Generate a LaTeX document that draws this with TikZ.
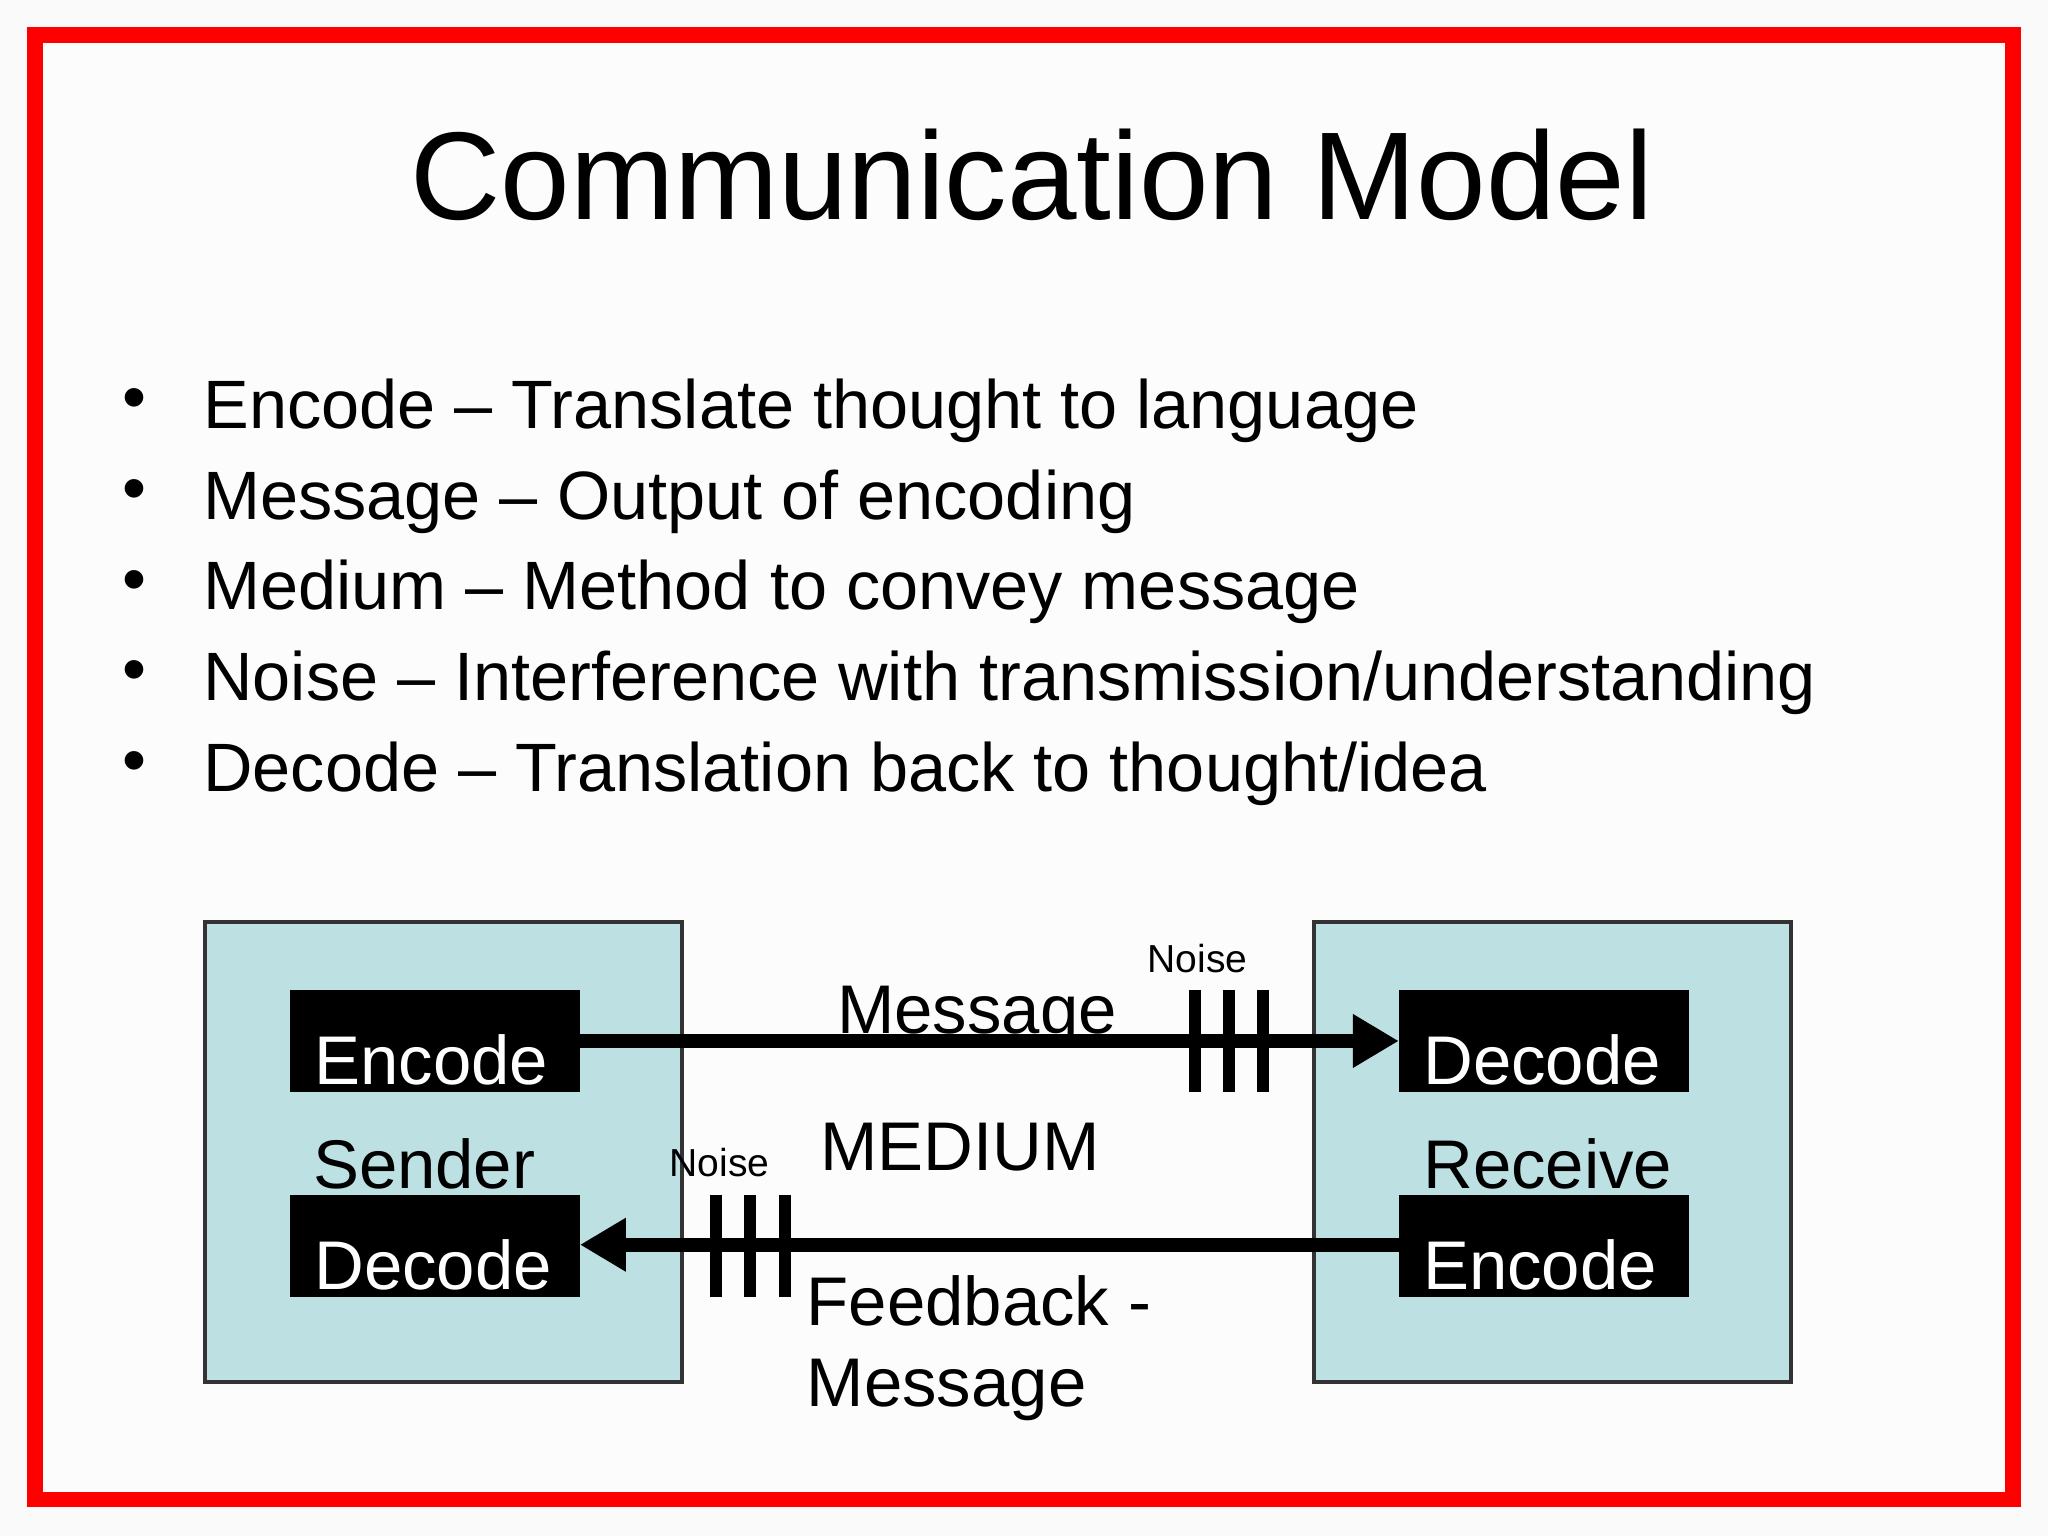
\documentclass[tikz,border=0pt]{standalone}
\usepackage{fontspec}
\setmainfont{Liberation Sans}
\usetikzlibrary{arrows.meta}
\begin{document}
\begin{tikzpicture}[x=0.01cm,y=-0.01cm,
  outer/.style={draw=black!80,fill={rgb,255:red,189;green,224;blue,227},line width=0.8pt},
  blk/.style={fill=black},
  wt/.style={text=white,font=\fontsize{15}{18}\selectfont,anchor=base west,inner sep=0},
  lbl/.style={font=\fontsize{15}{18}\selectfont,anchor=base west,inner sep=0},
  small/.style={font=\fontsize{8.5}{10}\selectfont,inner sep=0},
  bar/.style={line width=2.6pt},
  arr/.style={line width=3pt,-{Triangle[length=10pt,width=11pt]}},
  bul/.style={font=\fontsize{14.9}{18}\selectfont,anchor=base west,inner sep=0}]
\useasboundingbox (0,0) rectangle (1568,1176);
\fill[white!98!black] (0,0) rectangle (1568,1176);
\draw[red,line width=3.4pt,fill=white!99!black] (27,27) rectangle (1541,1148);
\node[font=\fontsize{27.2}{32}\selectfont,anchor=base] (title) at (790,168) {Communication Model};
\foreach \t [count=\i] in {Encode – Translate thought to language,Message – Output of encoding,Medium – Method to convey message,Noise – Interference with transmission/understanding,Decode – Translation back to thought/idea}{
  \node[bul] (b\i) at (155,{328+69.5*(\i-1)}) {\t};
  \node[bul] (d\i) at (93,{322+69.5*(\i-1)}) {•};
}
\draw[outer] (157,706) rectangle (522,1058);
\draw[outer] (1006,706) rectangle (1371,1058);
\fill[blk] (222,758) rectangle (444,836); \coordinate (se) at (444,797);
\fill[blk] (222,915) rectangle (444,993); \coordinate (sd) at (444,953);
\fill[blk] (1071,758) rectangle (1293,836); \coordinate (rd) at (1071,797);
\fill[blk] (1071,915) rectangle (1293,993); \coordinate (re) at (1071,953);
\node[wt] (t1) at (240,830) {Encode};
\node[wt] (t2) at (240,987) {Decode};
\node[wt] (t3) at (1089,830) {Decode};
\node[wt] (t4) at (1089,987) {Encode};
\node[lbl] (snd) at (239,910) {Sender};
\node[lbl] (rcv) at (1089,910) {Receive};
\draw[arr] (se) -- (rd);
\draw[arr] (re) -- (sd);
\node[lbl,anchor=base] (msg) at (748,791) {Message};
\node[lbl,anchor=base] (med) at (735,896) {MEDIUM};
\node[lbl] (fb) at (617,1015) {Feedback -};
\node[lbl] (fb2) at (617,1077) {Message};
\foreach \x in {915,941,967} \draw[bar] (\x,758) -- (\x,836);
\foreach \x in {548,574,601} \draw[bar] (\x,915) -- (\x,993);
\node[small] (n1) at (917,734) {Noise};
\node[small] (n2) at (551,890) {Noise};
\end{tikzpicture}
\end{document}
